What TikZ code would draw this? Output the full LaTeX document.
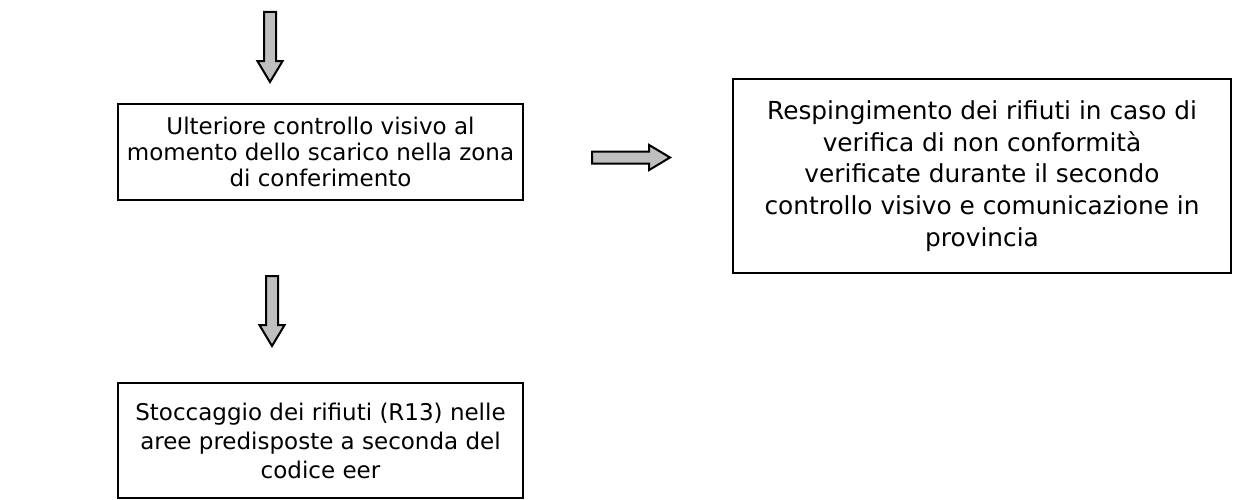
\documentclass[tikz,border=0pt]{standalone}
\usepackage{fontspec}
\setmainfont{DejaVu Sans}
\usetikzlibrary{shapes.arrows, positioning}

\begin{document}
\begin{tikzpicture}[x=1pt, y=-1pt,
  every node/.style={font=\fontsize{11.5}{13}\selectfont},
  box/.style={draw, line width=1pt, align=center, inner sep=0pt},
  garrow/.style={single arrow, draw, line width=1pt, fill=gray!50, inner xsep=0pt, inner ysep=2.5pt, single arrow head extend=3.3pt, single arrow tip angle=62}]

\useasboundingbox (0,0) rectangle (622.5,249.5);

% Boxes
\node[box, minimum width=202.5pt, minimum height=48pt] (ctrl) at (160.25,76) {Ulteriore controllo visivo al\\momento dello scarico nella zona\\di conferimento};
\node[box, minimum width=249pt, minimum height=97pt, font=\fontsize{12.4}{15.8}\selectfont] (resp) at (491,88) {Respingimento dei rifiuti in caso di\\verifica di non conformità\\verificate durante il secondo\\controllo visivo e comunicazione in\\provincia};
\node[box, minimum width=202.5pt, minimum height=57.5pt, font=\fontsize{11.5}{14.5}\selectfont] (stock) at (160.25,220.25) {Stoccaggio dei rifiuti (R13) nelle\\aree predisposte a seconda del\\codice eer};

% Arrows
\node[garrow, rotate=-90, minimum height=35pt] (in) at (135,21) {};
\node[garrow, minimum height=39pt] (out) at (313,78.75) {};
\node[garrow, rotate=-90, minimum height=35pt] (down) at (136,153) {};

\end{tikzpicture}
\end{document}
